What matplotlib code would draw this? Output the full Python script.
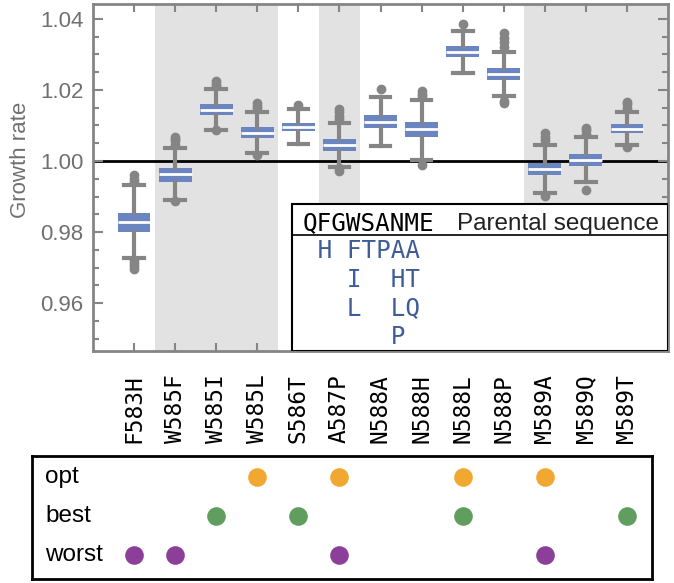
import numpy as np
import matplotlib
matplotlib.use('Agg')
from matplotlib import pyplot as plt
from matplotlib.ticker import MultipleLocator

plt.rcParams['font.family'] = ['Liberation Sans', 'DejaVu Sans']

# data
parent = 'QFGWSANME'
inset_rows = [' H FTPAA', '   I  HT', '   L  LQ', '      P']
labels = ['F583H', 'W585F', 'W585I', 'W585L', 'S586T', 'A587P', 'N588A',
          'N588H', 'N588L', 'N588P', 'M589A', 'M589Q', 'M589T']
med = [0.9829, 0.9962, 1.0144, 1.0080, 1.0096, 1.0044, 1.0111,
       1.0089, 1.0308, 1.0245, 0.9978, 1.0002, 1.0091]
q1 = [0.9801, 0.9942, 1.0130, 1.0064, 1.0085, 1.0028, 1.0094,
      1.0068, 1.0292, 1.0228, 0.9961, 0.9986, 1.0080]
q3 = [0.9854, 0.9979, 1.0160, 1.0095, 1.0108, 1.0062, 1.0130,
      1.0111, 1.0324, 1.0261, 0.9993, 1.0019, 1.0103]
whislo = [0.9727, 0.9890, 1.0087, 1.0022, 1.0047, 0.9984, 1.0043,
          1.0003, 1.0249, 1.0183, 0.9909, 0.9942, 1.0045]
whishi = [0.9932, 1.0036, 1.0202, 1.0139, 1.0146, 1.0106, 1.0181,
          1.0172, 1.0367, 1.0308, 1.0045, 1.0067, 1.0139]
fliers = [[0.9940, 0.9950, 0.9961, 0.9720, 0.9712, 0.9703, 0.9695],
          [1.0045, 1.0055, 1.0063, 1.0068, 0.9886],
          [1.0210, 1.0218, 1.0226, 1.0086],
          [1.0148, 1.0156, 1.0163, 1.0018],
          [1.0158],
          [1.0118, 1.0128, 1.0138, 1.0146, 0.9979, 0.9973],
          [1.0202],
          [1.0182, 1.0190, 1.0197, 0.9990],
          [1.0386],
          [1.0320, 1.0336, 1.0346, 1.0360, 1.0170, 1.0163],
          [1.0058, 1.0068, 1.0078, 0.9902],
          [1.0076, 1.0086, 1.0094, 0.9918],
          [1.0150, 1.0160, 1.0167, 1.0040]]

opt = ['W585L', 'A587P', 'N588L', 'M589A']
best = ['W585I', 'S586T', 'N588L', 'M589T']
worst = ['F583H', 'W585F', 'A587P', 'M589A']

blue = '#6a85c0'
txtblue = '#3e5d98'
gray = '#858585'
mono = 'DejaVu Sans Mono'

fig = plt.figure(figsize=(6.74, 5.83), dpi=100)
ax = fig.add_axes([93/674, 1-351/583, 575/674, 347/583])
x = np.arange(len(labels))

# alternating shading by residue position
resnum = [int(l[1:-1]) for l in labels]
groups = sorted(set(resnum))
for gi, g in enumerate(groups):
    if gi % 2 == 1:
        idx = [i for i, r in enumerate(resnum) if r == g]
        right = idx[-1] + 0.5 if idx[-1] < len(labels)-1 else len(labels)
        ax.axvspan(idx[0]-0.5, right, color='#e2e2e2', lw=0, zorder=0)

ax.axhline(1.0, color='black', lw=2, zorder=1)

stats = []
for i in range(len(labels)):
    stats.append(dict(med=med[i], q1=q1[i], q3=q3[i], whislo=whislo[i],
                      whishi=whishi[i], fliers=fliers[i], label=labels[i]))
ax.bxp(stats, positions=x, widths=0.8, patch_artist=True, capwidths=0.48,
       boxprops=dict(facecolor=blue, edgecolor='none'),
       medianprops=dict(color='white', lw=2),
       whiskerprops=dict(color=gray, lw=3),
       capprops=dict(color=gray, lw=3),
       flierprops=dict(marker='o', markerfacecolor=gray, markeredgecolor=gray,
                       markersize=6),
       zorder=3)

ax.set_xlim(-1, 13)
ax.set_ylim(0.9465, 1.0442)
ax.set_xticks(x)
ax.set_xticklabels(labels, rotation=90, family=mono, fontsize=16.5, va='top')
ax.yaxis.set_major_locator(MultipleLocator(0.02))
ax.yaxis.set_minor_locator(MultipleLocator(0.005))
ax.yaxis.set_major_formatter(plt.FormatStrFormatter('%.2f'))
ax.tick_params(axis='x', direction='in', top=True, length=6, width=1.5,
               color=gray, pad=17)
ax.tick_params(axis='y', which='both', direction='in', right=True,
               color=gray, width=1.5, labelsize=16, labelcolor='#707070', pad=7)
ax.tick_params(axis='y', which='major', length=7)
ax.tick_params(axis='y', which='minor', length=4)
for s in ax.spines.values():
    s.set_color(gray)
    s.set_linewidth(2)
ax.set_ylabel('Growth rate', fontsize=16, color='#707070')
ax.yaxis.set_label_coords(-0.107, 0.55)

# inset with parental sequence and the mutations at each position
x0, y_top = (292-93)/575, (351-204)/347
ax.add_patch(plt.Rectangle((x0, 0), 1-x0, y_top, transform=ax.transAxes,
                           facecolor='white', edgecolor='black', lw=1.5, zorder=5))
ax.plot([x0, 1], [(351-235)/347]*2, transform=ax.transAxes, color='black',
        lw=1.2, zorder=6)
tx = (303-93)/575
ax.text(tx, (351-230)/347, parent, transform=ax.transAxes, family=mono,
        fontsize=17.5, va='baseline', ha='left', zorder=6)
ax.text((457-93)/575, (351-230)/347, 'Parental sequence', transform=ax.transAxes,
        fontsize=17.5, va='baseline', ha='left', color='#222222', zorder=6)
for r, row in enumerate(inset_rows):
    ax.text(tx, (351-258.3-28.4*r)/347, row, transform=ax.transAxes, family=mono,
            fontsize=17.5, va='baseline', ha='left', color=txtblue, zorder=6)

# lower panel: opt / best / worst markers
bx = fig.add_axes([32/674, 4/583, 620/674, 123/583])
rows = [('opt', opt, '#f0a830'), ('best', best, '#5f9e5f'), ('worst', worst, '#8c3f99')]
for ri, (name, members, c) in enumerate(rows):
    xs = [labels.index(m) for m in members]
    bx.scatter(xs, [ri]*len(xs), s=180, color=c, lw=0)
    bx.text(0.021, ri, name, transform=bx.get_yaxis_transform(), fontsize=17.5,
            va='center', ha='left')
bx.set_xlim((32-134)/41.07, (652-134)/41.07)
bx.set_ylim(2.62, -0.54)
bx.set_xticks([])
bx.set_yticks([])
for s in bx.spines.values():
    s.set_linewidth(2)

fig.savefig('out.png', dpi=100)
